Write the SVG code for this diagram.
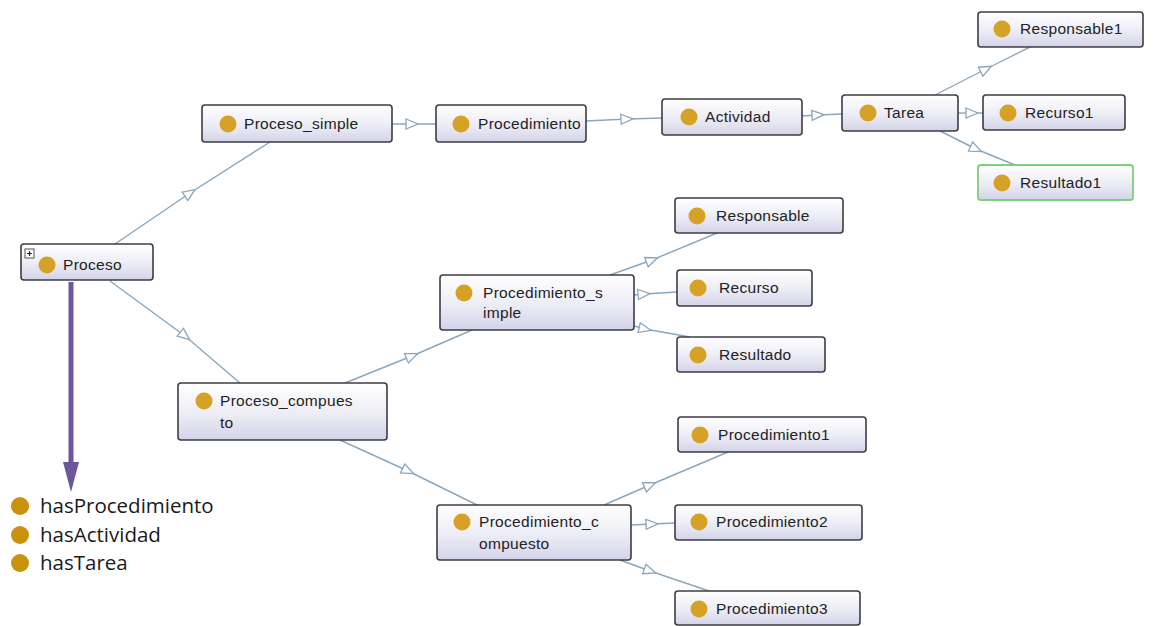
<svg xmlns="http://www.w3.org/2000/svg" width="1155" height="626" viewBox="0 0 1155 626">
  <style>
    .box { fill: url(#nodeFill); stroke: #3c3c44; stroke-width: 1.6; }
    .sel { fill: url(#nodeFill); stroke: #7ccf7c; stroke-width: 1.8; }
    .dot { fill: #d6a226; }
    .lbl { font-family: "Liberation Sans", Arial, sans-serif; font-size: 15.5px; letter-spacing: 0.3px; fill: #222; }
    .edge { stroke: #8aa7bd; stroke-width: 1.4; fill: none; marker-mid: url(#tri); }
    .legend { font-family: "Open Sans", "Noto Sans", sans-serif; font-size: 20.5px; fill: #1a1a1a; }
    .ldot { fill: #c9920e; }
  </style>
  <defs>
    <linearGradient id="nodeFill" x1="0" y1="0" x2="0" y2="1">
      <stop offset="0" stop-color="#ffffff"/>
      <stop offset="0.55" stop-color="#ececf6"/>
      <stop offset="1" stop-color="#d3d3e8"/>
    </linearGradient>
    <marker id="tri" viewBox="0 0 14 12" refX="7" refY="6" markerWidth="14" markerHeight="12" markerUnits="userSpaceOnUse" orient="auto">
      <path d="M1,1 L13,6 L1,11 Z" fill="#ffffff" stroke="#8aa7bd" stroke-width="1.3"/>
    </marker>
  </defs>

  <rect width="1155" height="626" fill="#ffffff"/>

  <!-- subclass links, each with a hollow triangle at its midpoint -->
  <g id="connectors">
    <path class="edge" d="M115,244 L190,193 L270,142"/>
    <path class="edge" d="M110,281 L185,336 L240,383"/>
    <path class="edge" d="M392,124 L412,124 L436,124"/>
    <path class="edge" d="M586,121 L627,119 L662,118"/>
    <path class="edge" d="M802,116 L818,115 L842,114"/>
    <path class="edge" d="M935,95 L986,69 L1032,46"/>
    <path class="edge" d="M958,113 L972,113 L983,113"/>
    <path class="edge" d="M940,131 L976,149 L1015,165"/>
    <path class="edge" d="M345,383 L412,356 L472,330"/>
    <path class="edge" d="M340,440 L408,471 L477,505"/>
    <path class="edge" d="M610,275 L652,260 L717,233"/>
    <path class="edge" d="M634,295 L644,294 L677,292"/>
    <path class="edge" d="M634,326 L645,329 L690,337"/>
    <path class="edge" d="M604,505 L650,485 L728,452"/>
    <path class="edge" d="M631,525 L652,524 L675,523"/>
    <path class="edge" d="M620,560 L650,571 L712,592"/>
  </g>

  <g id="n-proceso">
    <rect class="box" x="21" y="244" width="132" height="36" rx="3"/>
    <rect x="25" y="249" width="9" height="9" fill="#fff" stroke="#555" stroke-width="1"/>
    <path d="M27,253.5 H32 M29.5,251 V256" stroke="#222" stroke-width="1.2"/>
    <circle class="dot" cx="47" cy="265" r="8.5"/>
    <text class="lbl" x="63" y="270">Proceso</text>
  </g>

  <g id="n-proceso-simple">
    <rect class="box" x="202" y="105" width="190" height="37" rx="3"/>
    <circle class="dot" cx="228" cy="124" r="8.5"/>
    <text class="lbl" x="244" y="129">Proceso_simple</text>
  </g>

  <g id="n-procedimiento">
    <rect class="box" x="436" y="105" width="150" height="37" rx="3"/>
    <circle class="dot" cx="461" cy="124" r="8.5"/>
    <text class="lbl" x="478" y="129">Procedimiento</text>
  </g>

  <g id="n-actividad">
    <rect class="box" x="662" y="99" width="140" height="36" rx="3"/>
    <circle class="dot" cx="689" cy="117" r="8.5"/>
    <text class="lbl" x="705" y="122">Actividad</text>
  </g>

  <g id="n-tarea">
    <rect class="box" x="842" y="95" width="116" height="36" rx="3"/>
    <circle class="dot" cx="868" cy="113" r="8.5"/>
    <text class="lbl" x="884" y="118">Tarea</text>
  </g>

  <g id="n-responsable1">
    <rect class="box" x="978" y="12" width="165" height="35" rx="3"/>
    <circle class="dot" cx="1002" cy="29" r="8.5"/>
    <text class="lbl" x="1020" y="34">Responsable1</text>
  </g>

  <g id="n-recurso1">
    <rect class="box" x="983" y="95" width="142" height="35" rx="3"/>
    <circle class="dot" cx="1008" cy="113" r="8.5"/>
    <text class="lbl" x="1025" y="118">Recurso1</text>
  </g>

  <g id="n-resultado1">
    <rect class="sel" x="978" y="165" width="155" height="35" rx="3"/>
    <circle class="dot" cx="1002" cy="183" r="8.5"/>
    <text class="lbl" x="1020" y="188">Resultado1</text>
  </g>

  <g id="n-procedimiento-simple">
    <rect class="box" x="440" y="275" width="194" height="55" rx="3"/>
    <circle class="dot" cx="464" cy="293" r="8.5"/>
    <text class="lbl" x="483" y="298">Procedimiento_s</text>
    <text class="lbl" x="483" y="318">imple</text>
  </g>

  <g id="n-responsable">
    <rect class="box" x="675" y="198" width="168" height="35" rx="3"/>
    <circle class="dot" cx="697" cy="216" r="8.5"/>
    <text class="lbl" x="716" y="221">Responsable</text>
  </g>

  <g id="n-recurso">
    <rect class="box" x="677" y="270" width="135" height="36" rx="3"/>
    <circle class="dot" cx="698" cy="288" r="8.5"/>
    <text class="lbl" x="719" y="293">Recurso</text>
  </g>

  <g id="n-resultado">
    <rect class="box" x="677" y="337" width="148" height="35" rx="3"/>
    <circle class="dot" cx="698" cy="355" r="8.5"/>
    <text class="lbl" x="719" y="360">Resultado</text>
  </g>

  <g id="n-proceso-compuesto">
    <rect class="box" x="178" y="383" width="209" height="57" rx="3"/>
    <circle class="dot" cx="204" cy="401" r="8.5"/>
    <text class="lbl" x="220" y="406">Proceso_compues</text>
    <text class="lbl" x="220" y="428">to</text>
  </g>

  <g id="n-procedimiento-compuesto">
    <rect class="box" x="437" y="505" width="194" height="55" rx="3"/>
    <circle class="dot" cx="462" cy="522" r="8.5"/>
    <text class="lbl" x="479" y="527">Procedimiento_c</text>
    <text class="lbl" x="479" y="549">ompuesto</text>
  </g>

  <g id="n-procedimiento1">
    <rect class="box" x="678" y="417" width="188" height="35" rx="3"/>
    <circle class="dot" cx="700" cy="435" r="8.5"/>
    <text class="lbl" x="718" y="440">Procedimiento1</text>
  </g>

  <g id="n-procedimiento2">
    <rect class="box" x="675" y="505" width="187" height="35" rx="3"/>
    <circle class="dot" cx="699" cy="522" r="8.5"/>
    <text class="lbl" x="716" y="527">Procedimiento2</text>
  </g>

  <g id="n-procedimiento3">
    <rect class="box" x="675" y="591" width="185" height="34" rx="3"/>
    <circle class="dot" cx="699" cy="609" r="8.5"/>
    <text class="lbl" x="716" y="614">Procedimiento3</text>
  </g>

  <!-- object properties of Proceso -->
  <g id="properties">
    <line x1="71" y1="282" x2="71" y2="464" stroke="#6b579c" stroke-width="5"/>
    <path d="M63,462 L79,462 L71,492 Z" fill="#6b579c"/>
    <circle class="ldot" cx="20" cy="506" r="9"/>
    <text class="legend" x="40" y="513">hasProcedimiento</text>
    <circle class="ldot" cx="20" cy="535" r="9"/>
    <text class="legend" x="40" y="542">hasActividad</text>
    <circle class="ldot" cx="20" cy="563" r="9"/>
    <text class="legend" x="40" y="570">hasTarea</text>
  </g>
</svg>
